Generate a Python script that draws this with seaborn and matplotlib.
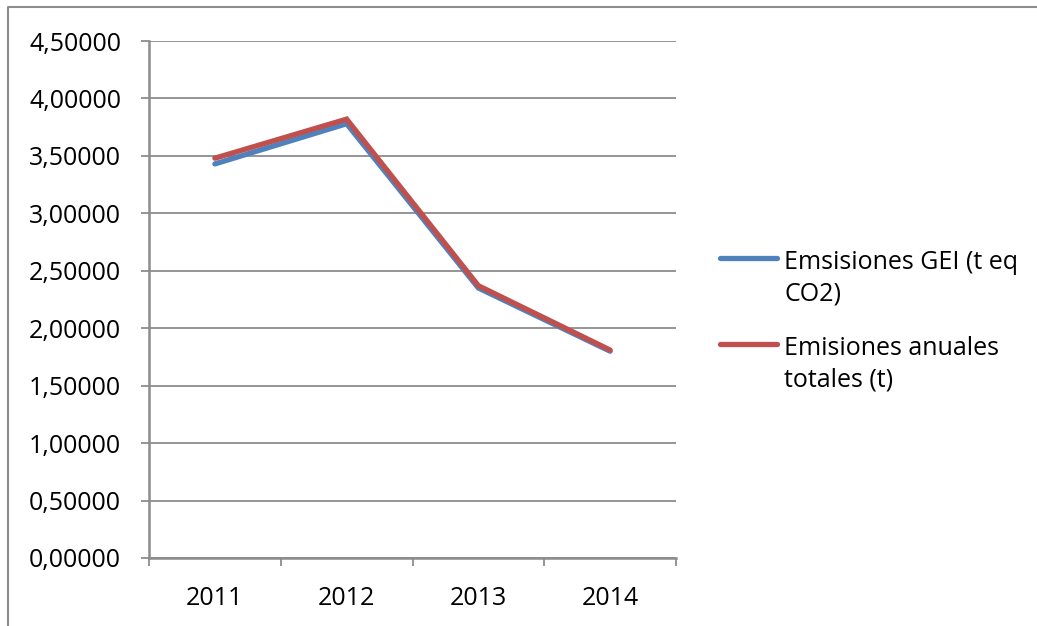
import numpy as np
import pandas as pd
import matplotlib
matplotlib.use('Agg')
import matplotlib.pyplot as plt
from matplotlib.lines import Line2D
from matplotlib.ticker import FuncFormatter, MultipleLocator, FixedLocator
import seaborn as sns

# datos
years = ['2011', '2012', '2013', '2014']
gei = [3.43, 3.78, 2.35, 1.80]        # Emsisiones GEI (t eq CO2)
totales = [3.48, 3.82, 2.37, 1.81]    # Emisiones anuales totales (t)
labels = ['Emsisiones GEI (t eq\nCO2)', 'Emisiones anuales\ntotales (t)']
colors = ['#4F81BD', '#C0504D']

sns.set_style('white')
plt.rcParams['font.family'] = ['Open Sans', 'DejaVu Sans']

df = pd.DataFrame({
    'x': list(range(len(years))) * 2,
    'valor': gei + totales,
    'serie': [labels[0]] * 4 + [labels[1]] * 4,
})

fig = plt.figure(figsize=(10.37, 6.26), dpi=100)
ax = fig.add_axes([149 / 1037, 1 - 558 / 626, (676 - 149) / 1037, (558 - 41) / 626])

sns.lineplot(data=df, x='x', y='valor', hue='serie', palette=colors,
             linewidth=3.8, legend=False, ax=ax)
for ln in ax.lines:
    ln.set_solid_capstyle('round')
    ln.set_solid_joinstyle('miter')

grid_col = '#8C8C8C'
ax.set_ylim(0, 4.5)
ax.set_xlim(-0.5, 3.5)
ax.yaxis.set_major_locator(MultipleLocator(0.5))
ax.yaxis.set_major_formatter(FuncFormatter(lambda v, p: f'{v:.5f}'.replace('.', ',')))
ax.set_xticks(range(len(years)))
ax.set_xticklabels(years)
ax.xaxis.set_minor_locator(FixedLocator([-0.5, 0.5, 1.5, 2.5, 3.5]))
ax.grid(axis='y', color=grid_col, linewidth=1.3)
ax.set_axisbelow(True)
ax.set_xlabel('')
ax.set_ylabel('')

for s in ['top', 'right']:
    ax.spines[s].set_visible(False)
for s in ['left', 'bottom']:
    ax.spines[s].set_color(grid_col)
    ax.spines[s].set_linewidth(1.8)

ax.tick_params(axis='y', which='major', length=6, width=1.3, color=grid_col,
               labelsize=18, pad=14, direction='out', left=True, labelcolor='black')
ax.tick_params(axis='x', which='major', length=0, labelsize=18, pad=20, labelcolor='black')
ax.tick_params(axis='x', which='minor', length=6, width=1.3, color=grid_col,
               direction='out', bottom=True)

# leyenda manual a la derecha
W, H = 1037, 626
for i, (lab, col, ly) in enumerate(zip(labels, colors, [258, 344])):
    fig.add_artist(Line2D([720 / W, 777 / W], [1 - ly / H, 1 - ly / H],
                          color=col, linewidth=3.8, solid_capstyle='round'))
    fig.text(784 / W, 1 - (ly - 8) / H, lab, fontsize=18, va='top', ha='left',
             linespacing=1.35, color='black')

# marco del grafico
fig.add_artist(Line2D([8 / W, 8 / W, 1.0], [0.0, 1 - 7 / H, 1 - 7 / H],
                      color='#8C8C8C', linewidth=1.5))

fig.savefig('out.png', dpi=100)
